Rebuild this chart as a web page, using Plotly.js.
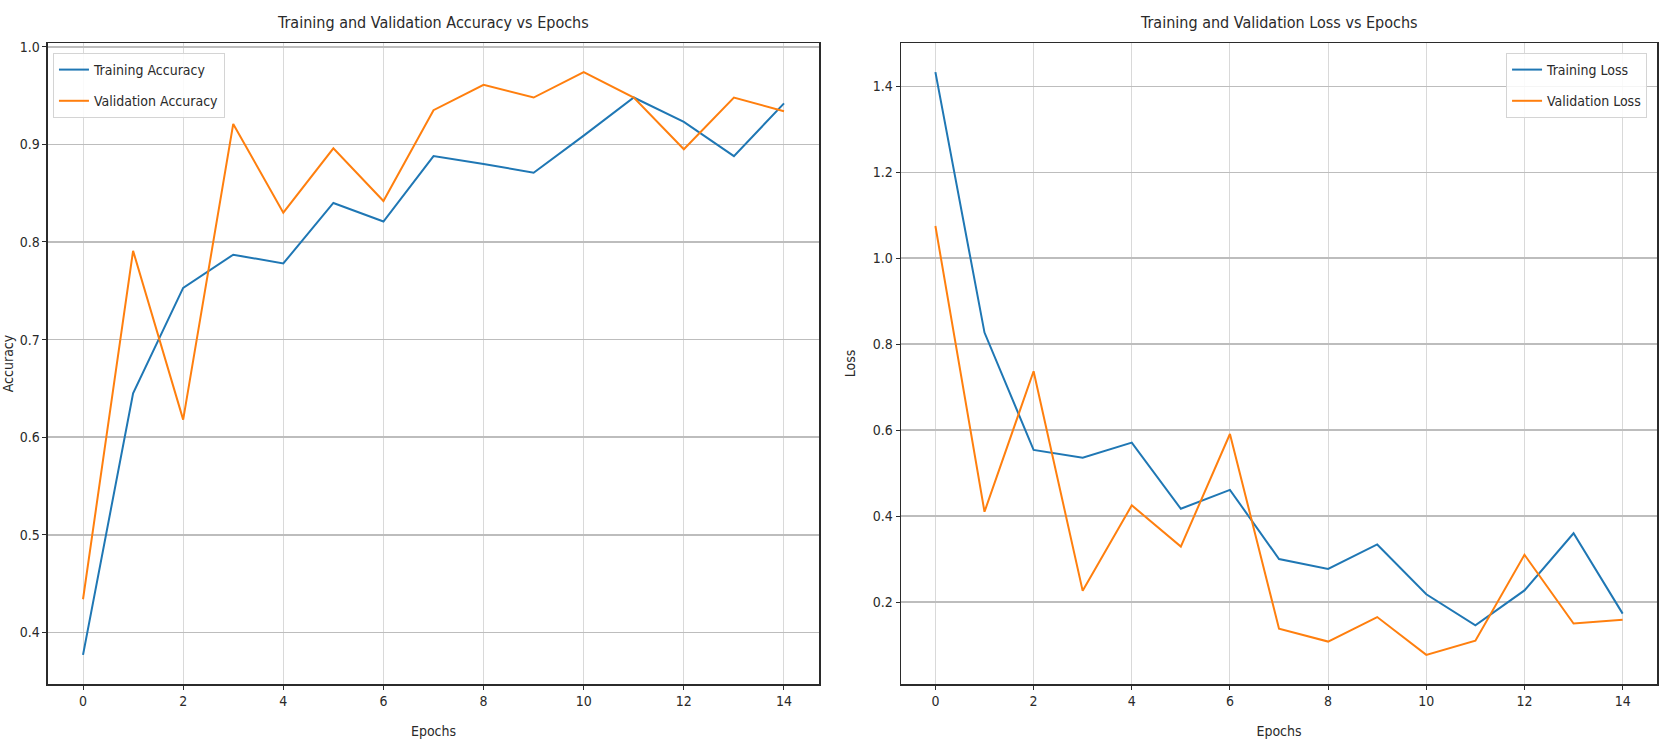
<!DOCTYPE html>
<html>
<head>
<meta charset="utf-8">
<script src="https://cdn.plot.ly/plotly-3.0.1.min.js"></script>
<style>
html,body{margin:0;padding:0;background:#fff;}
#chart{width:1660px;height:756px;}
</style>
</head>
<body>
<div id="chart"></div>
<script>
const epochs = [0,1,2,3,4,5,6,7,8,9,10,11,12,13,14];
const trainAcc = [0.377,0.645,0.753,0.787,0.778,0.840,0.821,0.888,0.880,0.871,0.909,0.948,0.923,0.888,0.942];
const valAcc   = [0.434,0.791,0.618,0.921,0.830,0.896,0.842,0.935,0.961,0.948,0.974,0.948,0.895,0.948,0.934];
const trainLoss = [1.433,0.827,0.554,0.536,0.571,0.417,0.461,0.300,0.277,0.334,0.218,0.146,0.227,0.360,0.173];
const valLoss   = [1.075,0.410,0.737,0.226,0.425,0.329,0.591,0.138,0.108,0.165,0.077,0.110,0.310,0.150,0.159];
const xTicks = [0,2,4,6,8,10,12,14];
const accTicks = [0.4,0.5,0.6,0.7,0.8,0.9,1.0];
const accTickText = ['0.4','0.5','0.6','0.7','0.8','0.9','1.0'];
const lossTicks = [0.2,0.4,0.6,0.8,1.0,1.2,1.4];
const lossTickText = ['0.2','0.4','0.6','0.8','1.0','1.2','1.4'];

const FONT = '"Liberation Sans Narrow", "DejaVu Sans Condensed", "DejaVu Sans", sans-serif';
const TXT = '#2a2a2a';
const BLUE = '#1f77b4', ORANGE = '#ff7f0e';

function padRange(arrs){
  const all = [].concat(...arrs);
  const mn = Math.min(...all), mx = Math.max(...all);
  const m = (mx-mn)*0.05;
  return [mn-m, mx+m];
}
const span = epochs[epochs.length-1]-epochs[0];
const xr = [epochs[0]-span*0.05, epochs[epochs.length-1]+span*0.05];

const traces = [
  {x:epochs,y:trainAcc,type:'scatter',mode:'lines',name:'Training Accuracy',line:{color:BLUE,width:2},xaxis:'x',yaxis:'y',legend:'legend',legendgroup:'a1'},
  {x:epochs,y:valAcc,type:'scatter',mode:'lines',name:'Validation Accuracy',line:{color:ORANGE,width:2},xaxis:'x',yaxis:'y',legend:'legend',legendgroup:'a2'},
  {x:epochs,y:trainLoss,type:'scatter',mode:'lines',name:'Training Loss',line:{color:BLUE,width:2},xaxis:'x2',yaxis:'y2',legend:'legend2',legendgroup:'l1'},
  {x:epochs,y:valLoss,type:'scatter',mode:'lines',name:'Validation Loss',line:{color:ORANGE,width:2},xaxis:'x2',yaxis:'y2',legend:'legend2',legendgroup:'l2'}
];

const xCommon = {
  range:xr, tickmode:'array', tickvals:xTicks, ticktext:xTicks.map(String),
  showgrid:true, gridcolor:'#d9d9d9', gridwidth:1, zeroline:false,
  showline:true, mirror:true, linecolor:'#2b2b2b', linewidth:1.5,
  ticks:'outside', ticklen:4, tickcolor:'#2b2b2b', tickwidth:1,
  tickfont:{family:FONT,size:14,color:TXT},
  title:{text:'Epochs',font:{family:FONT,size:14,color:TXT},standoff:18},
  automargin:false
};
const yCommon = {
  showgrid:true, gridcolor:'#bdbdbd', gridwidth:1.5, zeroline:false,
  showline:true, mirror:true, linecolor:'#2b2b2b', linewidth:1.5,
  ticks:'outside', ticklen:4, tickcolor:'#2b2b2b', tickwidth:1,
  tickfont:{family:FONT,size:14,color:TXT},
  automargin:false
};

const layout = {
  width:1660, height:756,
  margin:{l:0,r:0,t:0,b:0},
  paper_bgcolor:'#ffffff', plot_bgcolor:'#ffffff',
  showlegend:true,
  xaxis:Object.assign({}, xCommon, {domain:[0.0289,0.4934], anchor:'y'}),
  yaxis:Object.assign({}, yCommon, {domain:[0.0952,0.9431], anchor:'x', range:padRange([trainAcc,valAcc]),
    tickmode:'array', tickvals:accTicks, ticktext:accTickText,
    title:{text:'Accuracy',font:{family:FONT,size:14,color:TXT},standoff:14}}),
  xaxis2:Object.assign({}, xCommon, {domain:[0.5428,0.9982], anchor:'y2'}),
  yaxis2:Object.assign({}, yCommon, {domain:[0.0952,0.9431], anchor:'x2', range:padRange([trainLoss,valLoss]),
    tickmode:'array', tickvals:lossTicks, ticktext:lossTickText,
    title:{text:'Loss',font:{family:FONT,size:14,color:TXT},standoff:14}}),
  legend:{x:0.0319, y:0.9299, xanchor:'left', yanchor:'top', bgcolor:'rgba(255,255,255,0.85)',
    bordercolor:'#d4d4d4', borderwidth:1, font:{family:FONT,size:14,color:TXT}, tracegroupgap:10, traceorder:'grouped', itemwidth:30},
  legend2:{x:0.9922, y:0.9299, xanchor:'right', yanchor:'top', bgcolor:'rgba(255,255,255,0.85)',
    bordercolor:'#d4d4d4', borderwidth:1, font:{family:FONT,size:14,color:TXT}, tracegroupgap:10, traceorder:'grouped', itemwidth:30},
  annotations:[
    {text:'Training and Validation Accuracy vs Epochs', xref:'paper', yref:'paper', x:0.2608, y:0.9696,
      xanchor:'center', yanchor:'middle', showarrow:false, font:{family:FONT,size:16,color:TXT}},
    {text:'Training and Validation Loss vs Epochs', xref:'paper', yref:'paper', x:0.7705, y:0.9696,
      xanchor:'center', yanchor:'middle', showarrow:false, font:{family:FONT,size:16,color:TXT}}
  ]
};

Plotly.newPlot('chart', traces, layout, {displayModeBar:false, staticPlot:true});
</script>
</body>
</html>
